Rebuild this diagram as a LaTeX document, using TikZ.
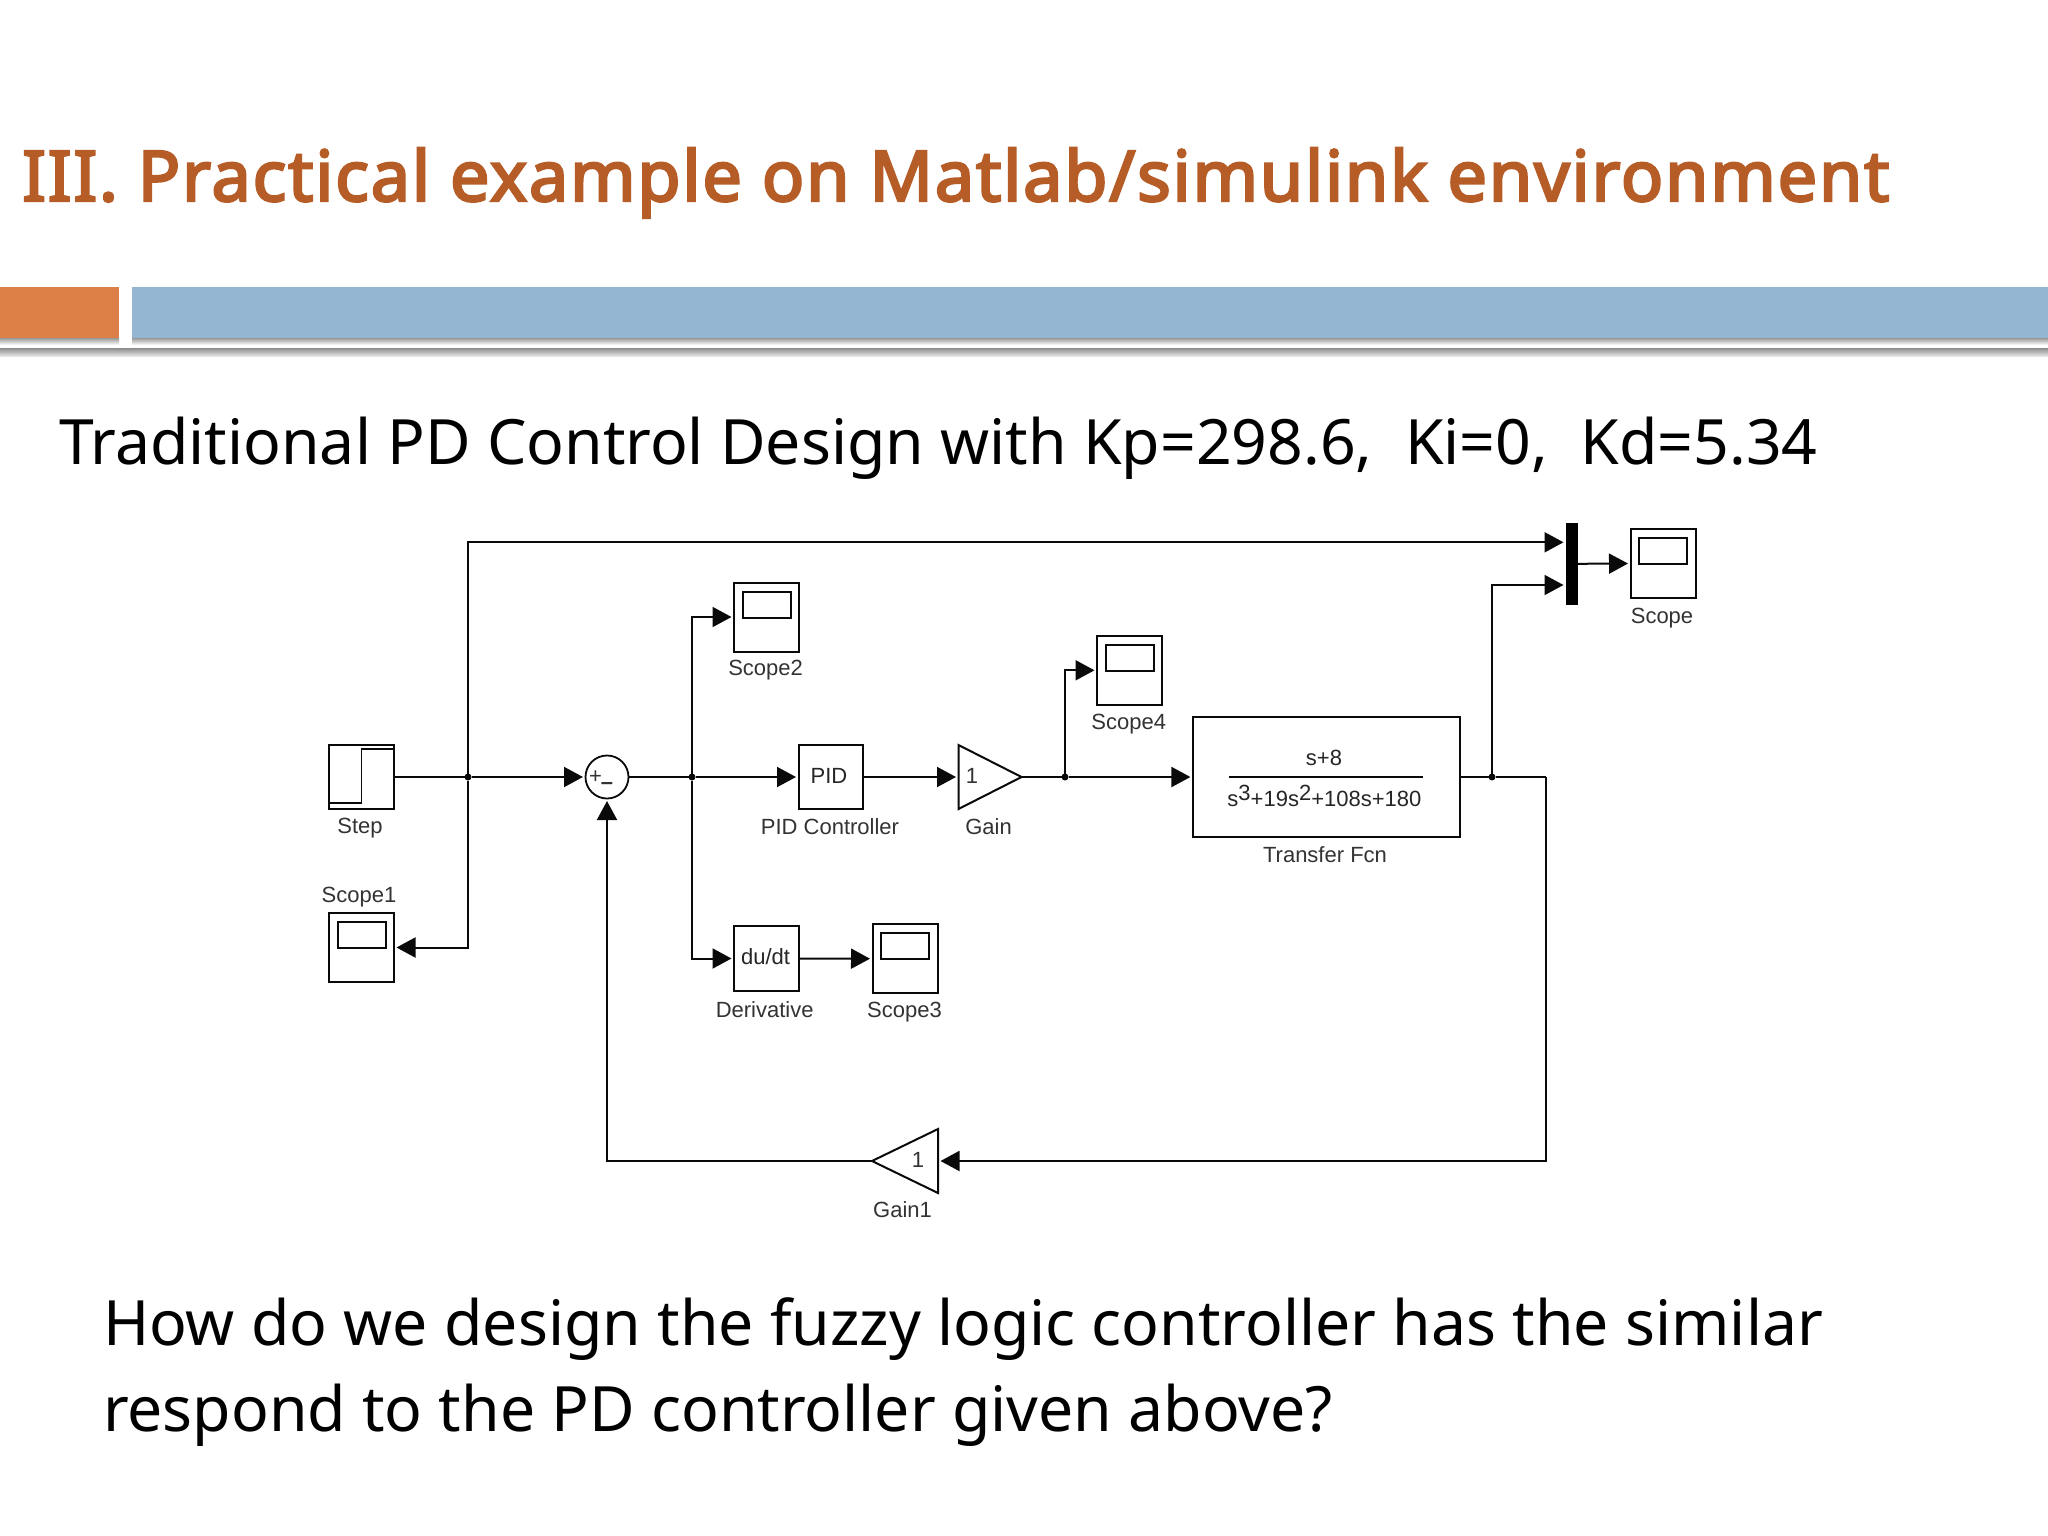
\documentclass[tikz,border=0pt]{standalone}
\usepackage{fontspec}
\setmainfont{Noto Sans}
\newfontfamily\titlefont{Noto Sans}[FakeBold=3.5,LetterSpace=2.7]
\newfontfamily\blockfont{Liberation Sans}
\usetikzlibrary{arrows.meta}
\definecolor{titlecol}{HTML}{B65C26}
\definecolor{orangebar}{HTML}{DD8047}
\definecolor{bluebar}{HTML}{94B6D2}
\definecolor{wirecol}{HTML}{0A0A0A}
\tikzset{
  x=1pt,y=-1pt,
  wire/.style={draw=wirecol,line width=2pt,line join=miter},
  arr/.style={wire,-{Triangle[length=19pt,width=20pt]},shorten >=2.5pt},
  block/.style={draw=wirecol,line width=2pt,inner sep=0pt,outer sep=0pt,font=\blockfont\fontsize{22}{26}\selectfont,text=black!85},
  ghost/.style={inner sep=0pt,outer sep=0pt},
  lbl/.style={inner sep=0pt,outer sep=0pt,font=\blockfont\fontsize{22}{26}\selectfont,text=black!80},
  dot/.style={circle,fill=wirecol,inner sep=0pt,minimum size=7pt,outer sep=0pt},
  scopebox/.style={block,minimum width=65pt,minimum height=69pt},
  screenbox/.style={block,minimum width=48pt,minimum height=26pt},
  big/.style={inner sep=0pt,outer sep=0pt,anchor=base west,font=\fontsize{62.5}{70}\selectfont,text=black}
}
\begin{document}
\begin{tikzpicture}
\useasboundingbox (0,0) rectangle (2048,1536);
\fill[white] (0,0) rectangle (2048,1536);
% header
\node[inner sep=0pt,anchor=base west,font=\titlefont\fontsize{70}{80}\selectfont,text=titlecol] (title) at (22,201) {III. Practical example on Matlab/simulink environment};
\shade[top color=black!40,bottom color=white] (0,338) rectangle (119,345);
\shade[top color=black!40,bottom color=white] (132,338) rectangle (2048,345);
\shade[top color=black!45,bottom color=black!10] (0,348) rectangle (2048,356);
\fill[orangebar] (0,287) rectangle (119,338);
\fill[bluebar] (132,287) rectangle (2048,338);
\node[big] (line1) at (59,464.5) {Traditional PD Control Design with Kp=298.6,\ \ Ki=0,\ \ Kd=5.34};
\node[big] (q1) at (103,1345) {How do we design the fuzzy logic controller has the similar};
\node[big] (q2) at (103,1431) {respond to the PD controller given above?};
% blocks
\node[block,minimum width=65pt,minimum height=64pt] (step) at (361.5,777) {};
\draw[wire,line width=1.8pt] (step.south west) ++(0,-6) -| ++(32.5,-54) -- ++(32.5,0);
\node[scopebox] (scope1) at (361.5,947.5) {};
\node[screenbox] at (361.5,935) (s1) {};
\node[circle,draw=wirecol,line width=1.8pt,minimum size=43pt,inner sep=0pt,outer sep=0pt] (sum) at (607,777) {};
\node[lbl] (plus) at (595.5,777) {+};
\node[lbl,font=\blockfont\bfseries\fontsize{22}{26}\selectfont] (minus) at (607,786) {\textendash};
\node[block,minimum width=64pt,minimum height=64pt] (pid) at (830.5,777) {};
\node[lbl,text=black!85] (pidt) at (829,775.5) {PID};
\node[ghost,minimum width=63pt,minimum height=64pt] (gain) at (990,777) {};
\draw[wire,line join=miter] (gain.north west) -- (gain.east) -- (gain.south west) -- cycle;
\node[lbl] (gaink) at (972,776) {1};
\node[block,minimum width=65pt,minimum height=65pt] (deriv) at (766.5,958.5) {};
\node[lbl,text=black!85] (derivt) at (765.6,957) {du/dt};
\node[scopebox] (scope3) at (905,958.7) {};
\node[screenbox] (s3) at (905,946) {};
\node[scopebox] (scope2) at (766.5,617) {};
\node[screenbox] (s2) at (766.5,604.5) {};
\node[scopebox] (scope4) at (1129.5,670.3) {};
\node[screenbox] (s4) at (1129.5,658) {};
\node[block,minimum width=267pt,minimum height=120pt] (tf) at (1326.4,717+60) {};
\node[lbl,text=black!85] (num) at (1324,758) {s+8};
\node[lbl,text=black!85] (den) at (1324.4,796) {s\raisebox{6pt}{3}+19s\raisebox{6pt}{2}+108s+180};
\coordinate (fl) at (1228.7,777);
\coordinate (fr) at (1423,777);
\draw[wire] (fl) -- (fr);
\node[fill=black,inner sep=0pt,outer sep=0pt,minimum width=12pt,minimum height=82pt] (mux) at (1572,563.8) {};
\coordinate (muxa) at (mux.west |- 0,542.3);
\coordinate (muxb) at (mux.west |- 0,585);
\node[scopebox] (scope) at (1663,563.5) {};
\node[screenbox] (s) at (1663,550.7) {};
\node[ghost,minimum width=66pt,minimum height=64pt] (gain1) at (905,1161) {};
\draw[wire,line join=miter] (gain1.north east) -- (gain1.west) -- (gain1.south east) -- cycle;
\node[lbl] (gain1k) at (918,1160) {1};
% junctions
\node[dot] (j1) at (468,777) {};
\node[dot] (j2) at (692,777) {};
\node[dot] (j3) at (1065,777) {};
\node[dot] (j4) at (1492,777) {};
\coordinate (corner) at (1545.5,777);
\coordinate (corner2) at (1545.5,1161);
\coordinate (top) at (468,542.3);
\coordinate (fbc) at (607,1161);
% connectors
\draw[arr] (step.east) -- (j1) -- (sum.west);
\draw[arr] (j1) |- (scope1.east);
\draw[arr] (j1) -- (top) -- (muxa);
\draw[arr] (sum.east) -- (j2) -- (pid.west);
\draw[arr] (j2) |- (scope2.west);
\draw[arr] (j2) |- (deriv.west);
\draw[arr] (deriv.east) -- (scope3.west);
\draw[arr] (pid.east) -- (gain.west);
\draw[arr] (gain.east) -- (j3) -- (tf.west);
\draw[arr] (j3) |- (scope4.west);
\draw[wire] (tf.east) -- (j4) -- (corner);
\draw[arr] (j4) |- (muxb);
\draw[arr] (mux.east) -- (scope.west);
\draw[arr] (corner) -- (corner2) -- (gain1.east);
\draw[arr] (gain1.west) -- (fbc) -- (sum.south);
% labels
\node[lbl] (lstep) at (360,828) {Step};
\node[lbl] (lpid) at (830,826.7) {PID Controller};
\node[lbl] (lgain) at (988.6,826.7) {Gain};
\node[lbl] (lscope1) at (359,897.5) {Scope1};
\node[lbl] (lderiv) at (764.7,1009.5) {Derivative};
\node[lbl] (lscope3) at (904.5,1012.5) {Scope3};
\node[lbl] (lscope2) at (765.6,670.5) {Scope2};
\node[lbl] (lscope4) at (1128.7,724.5) {Scope4};
\node[lbl] (ltf) at (1325,855) {Transfer Fcn};
\node[lbl] (lscope) at (1662,618) {Scope};
\node[lbl] (lgain1) at (902.5,1209.5) {Gain1};
\end{tikzpicture}
\end{document}
